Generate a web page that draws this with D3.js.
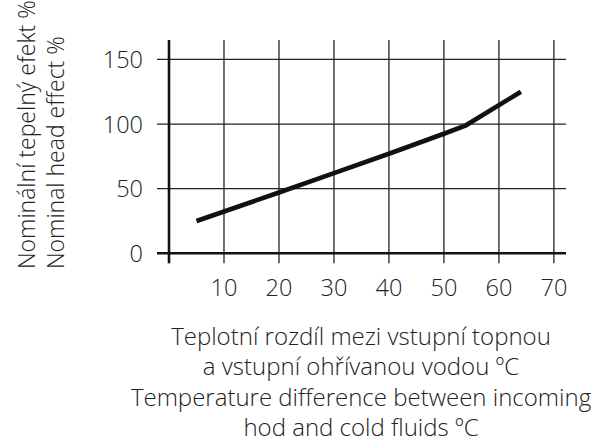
<!DOCTYPE html>
<html>
<head>
<meta charset="utf-8">
<script src="https://cdn.jsdelivr.net/npm/d3@7"></script>
<style>
  body { margin: 0; background: #fff; }
  text { font-family: "Open Sans", sans-serif; font-weight: 350; fill: #222; }
</style>
</head>
<body>
<div id="chart"></div>
<script>
"use strict";

// temperature difference (ºC) -> nominal heat effect (%)
const tempDiff = [5, 20, 30, 40, 50, 54, 64];
const effect = [25, 47, 62, 77, 92.5, 99, 125];

const xTicks = [10, 20, 30, 40, 50, 60, 70];
const yTicks = [0, 50, 100, 150];

const yTitle = ["Nominální tepelný efekt %", "Nominal head effect %"];
const xTitle = [
    "Teplotní rozdíl mezi vstupní topnou",
    "a vstupní ohřívanou vodou ºC",
    "Temperature difference between incoming",
    "hod and cold fluids ºC"
];

const width = 602,
    height = 443;

const svg = d3.select("#chart")
    .append("svg")
    .attr("width", width)
    .attr("height", height);

const x = d3.scaleLinear().domain([0, 72.2]).range([169, 566]);
const y = d3.scaleLinear().domain([0, 165]).range([253.3, 40]);

// vertical grid
svg.selectAll(".vgrid")
    .data(xTicks)
    .enter()
    .append("line")
    .attr("x1", d => x(d))
    .attr("x2", d => x(d))
    .attr("y1", y(165))
    .attr("y2", y(0) + 10)
    .attr("stroke", "#222")
    .attr("stroke-width", 1.3);

// horizontal grid
svg.selectAll(".hgrid")
    .data(yTicks.filter(d => d > 0))
    .enter()
    .append("line")
    .attr("x1", x(0) - 12)
    .attr("x2", x(72.2))
    .attr("y1", d => y(d))
    .attr("y2", d => y(d))
    .attr("stroke", "#222")
    .attr("stroke-width", 1.3);

// axes lines
svg.append("line")
    .attr("x1", x(0) - 12).attr("x2", x(72.2))
    .attr("y1", y(0)).attr("y2", y(0))
    .attr("stroke", "#111").attr("stroke-width", 2.6);

svg.append("line")
    .attr("x1", x(0)).attr("x2", x(0))
    .attr("y1", y(165)).attr("y2", y(0) + 10)
    .attr("stroke", "#111").attr("stroke-width", 2.6);

// tick labels
svg.selectAll(".ylab")
    .data(yTicks)
    .enter()
    .append("text")
    .attr("x", 143)
    .attr("y", d => y(d) + 8.5)
    .attr("text-anchor", "end")
    .attr("font-size", 23.5)
    .text(d => d);

svg.selectAll(".xlab")
    .data(xTicks)
    .enter()
    .append("text")
    .attr("x", d => x(d))
    .attr("y", 296)
    .attr("text-anchor", "middle")
    .attr("font-size", 23.5)
    .text(d => d);

// data line
const line = d3.line()
    .x((d, i) => x(tempDiff[i]))
    .y(d => y(d));

svg.append("path")
    .datum(effect)
    .attr("fill", "none")
    .attr("stroke", "#111")
    .attr("stroke-width", 4.6)
    .attr("d", line);

// titles
svg.selectAll(".ytitle")
    .data(yTitle)
    .enter()
    .append("text")
    .attr("transform", (d, i) => "translate(" + (35 + i * 29) + ",269) rotate(-90)")
    .attr("font-size", 23)
    .text(d => d);

svg.selectAll(".xtitle")
    .data(xTitle)
    .enter()
    .append("text")
    .attr("x", 361)
    .attr("y", (d, i) => 345 + i * 30.3)
    .attr("text-anchor", "middle")
    .attr("font-size", 24)
    .text(d => d);
</script>
</body>
</html>
